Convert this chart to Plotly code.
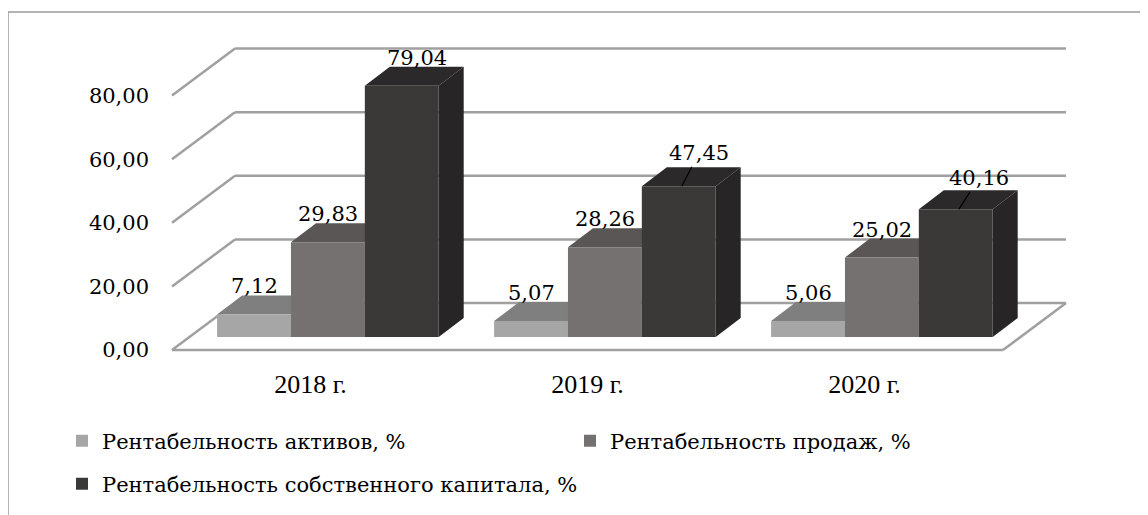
import plotly.graph_objects as go

# ---------------- data ----------------
categories = ["2018 г.", "2019 г.", "2020 г."]
series_names = [
    "Рентабельность активов, %",
    "Рентабельность продаж, %",
    "Рентабельность собственного капитала, %",
]
roa_values = [7.12, 5.07, 5.06]
ros_values = [29.83, 28.26, 25.02]
roe_values = [79.04, 47.45, 40.16]
y_tick_values = [0, 20, 40, 60, 80]

series_values = [roa_values, ros_values, roe_values]

# ---------------- style ----------------
FONT = "Liberation Serif"        # category labels
FONT_SIZE = 26
FONT2 = "DejaVu Serif"           # numbers / legend (renders reliably with commas)
FONT2_SIZE = 21
front_colors = ["#a6a6a6", "#767171", "#3b3838"]
top_colors = ["#7f7f7f", "#5a5656", "#2b2929"]
side_colors = ["#8c8c8c", "#5f5b5b", "#272525"]
grid_color = "#a0a0a0"
frame_color = "#9a9a9a"

PAGE = 8  # default body margin of the html page
FIG_W, FIG_H = 1148 - PAGE, 515 - PAGE
SX = 277.0      # px per category unit
SY = 3.18       # px per value unit
X0_PX = 310.5 - PAGE
Y0_PX = 350.0 - PAGE
L_PX, R_PX = 158 - PAGE, 1080 - PAGE
Y_MAX, Y_MIN = (Y0_PX - (32 - PAGE)) / SY, -5.0
T_PX = Y0_PX - Y_MAX * SY
B_PX = Y0_PX - Y_MIN * SY
X_MIN = (L_PX - X0_PX) / SX
X_MAX = (R_PX - X0_PX) / SX
PLOT_W = R_PX - L_PX
PLOT_H = B_PX - T_PX

# depth vectors (pixels converted to data units)
floor_dx, floor_dy = 63 / SX, 47 / SY       # front edge -> back wall
plane_dx, plane_dy = 17.4 / SX, 13 / SY     # front edge -> bars' front plane
bar_dx, bar_dy = 25 / SX, 19 / SY           # bar front face -> bar back face
GROUP_W = 0.8
BAR_W = GROUP_W / len(series_values)

# data label tweaks in px
label_style = {
    (2, 0): dict(xshift=15),
    (2, 1): dict(arrow=(17, -33, 3)),
    (2, 2): dict(arrow=(20, -31, 3)),
}

x_idx = list(range(len(categories)))
n_cat = len(categories)

fig = go.Figure()
shapes = []
annotations = []


def px_to_paper_x(px):
    return (px - PAGE - L_PX) / PLOT_W


def px_to_paper_y(py):
    return (B_PX - (py - PAGE)) / PLOT_H


# outer frame
shapes.append(dict(type="rect", xref="paper", yref="paper",
                   x0=px_to_paper_x(8), x1=px_to_paper_x(1148 + 30),
                   y0=px_to_paper_y(515 + 30), y1=px_to_paper_y(12),
                   line=dict(color=frame_color, width=1.5), fillcolor="rgba(0,0,0,0)",
                   layer="below"))

# floor + back wall gridlines
left_edge, right_edge = -0.5, n_cat - 0.5
for v in y_tick_values:
    shapes.append(dict(type="line", xref="x", yref="y",
                       x0=left_edge + floor_dx, x1=right_edge + floor_dx,
                       y0=v + floor_dy, y1=v + floor_dy,
                       line=dict(color=grid_color, width=2.5), layer="below"))
    shapes.append(dict(type="line", xref="x", yref="y",
                       x0=left_edge, x1=left_edge + floor_dx,
                       y0=v, y1=v + floor_dy,
                       line=dict(color=grid_color, width=2.5), layer="below"))
shapes.append(dict(type="line", xref="x", yref="y", x0=left_edge, x1=right_edge, y0=0, y1=0,
                   line=dict(color=grid_color, width=2.5), layer="below"))
shapes.append(dict(type="line", xref="x", yref="y", x0=right_edge, x1=right_edge + floor_dx,
                   y0=0, y1=floor_dy, line=dict(color=grid_color, width=2.5), layer="below"))

legend_of = ["legend", "legend", "legend2"]

# bars (front faces) + 3D top/side faces
for k, (name, vals) in enumerate(zip(series_names, series_values)):
    offset = -GROUP_W / 2 + k * BAR_W + plane_dx
    fig.add_trace(go.Bar(
        x=x_idx, y=vals, base=[plane_dy] * len(vals), name=name,
        offset=offset, width=BAR_W, legend=legend_of[k],
        marker=dict(color=front_colors[k], line=dict(width=0)),
        hovertemplate="%{x}: %{y:.2f}<extra>" + name + "</extra>",
    ))
    for i, v in enumerate(vals):
        x0 = i + offset
        x1 = x0 + BAR_W
        yb = plane_dy
        yt = plane_dy + v
        top = (f"M {x0},{yt} L {x1},{yt} L {x1 + bar_dx},{yt + bar_dy} "
               f"L {x0 + bar_dx},{yt + bar_dy} Z")
        side = (f"M {x1},{yb} L {x1 + bar_dx},{yb + bar_dy} L {x1 + bar_dx},{yt + bar_dy} "
                f"L {x1},{yt} Z")
        shapes.append(dict(type="path", xref="x", yref="y", path=side,
                           fillcolor=side_colors[k], line=dict(width=0), layer="below"))
        shapes.append(dict(type="path", xref="x", yref="y", path=top,
                           fillcolor=top_colors[k], line=dict(width=0), layer="below"))
        xc = x0 + BAR_W / 2
        text = f"{v:.2f}".replace(".", ",")
        st = label_style.get((k, i), {})
        lab_font = dict(family=FONT2, size=FONT2_SIZE, color="#000000")
        if "arrow" in st:
            ax, ay, dxp = st["arrow"]
            annotations.append(dict(x=xc + dxp / SX, y=yt, xref="x", yref="y", text=text,
                                    showarrow=True, arrowhead=0, arrowwidth=1.2,
                                    arrowcolor="#000000", ax=ax, ay=ay, standoff=0,
                                    font=lab_font))
        else:
            annotations.append(dict(x=xc, y=yt + bar_dy, xref="x", yref="y", text=text,
                                    showarrow=False, xanchor="center", yanchor="bottom",
                                    xshift=st.get("xshift", 0), yshift=st.get("yshift", -5),
                                    font=lab_font))

legend_common = dict(orientation="h", xanchor="left", yanchor="middle",
                     itemwidth=30, traceorder="normal",
                     font=dict(family=FONT2, size=FONT2_SIZE, color="#000000"),
                     bgcolor="rgba(0,0,0,0)")

fig.update_layout(
    width=FIG_W, height=FIG_H,
    margin=dict(l=L_PX, r=FIG_W - R_PX, t=T_PX, b=FIG_H - B_PX, autoexpand=False),
    paper_bgcolor="#ffffff", plot_bgcolor="rgba(0,0,0,0)",
    barmode="overlay",
    separators=", ",
    font=dict(family=FONT, size=FONT_SIZE, color="#000000"),
    shapes=shapes, annotations=annotations,
    xaxis=dict(range=[X_MIN, X_MAX], tickvals=x_idx, ticktext=categories,
               showgrid=False, zeroline=False, showline=False, ticks="",
               tickfont=dict(family=FONT, size=FONT_SIZE, color="#000000")),
    yaxis=dict(range=[Y_MIN, Y_MAX], tickvals=y_tick_values, tickformat=".2f",
               showgrid=False, zeroline=False, showline=False, ticks="",
               ticklabelstandoff=8,
               tickfont=dict(family=FONT2, size=FONT2_SIZE, color="#000000")),
    legend=dict(x=px_to_paper_x(62), y=px_to_paper_y(441), entrywidth=463, **legend_common),
    legend2=dict(x=px_to_paper_x(62), y=px_to_paper_y(484), entrywidth=600, **legend_common),
    showlegend=True,
)

fig.write_html("out.html")
